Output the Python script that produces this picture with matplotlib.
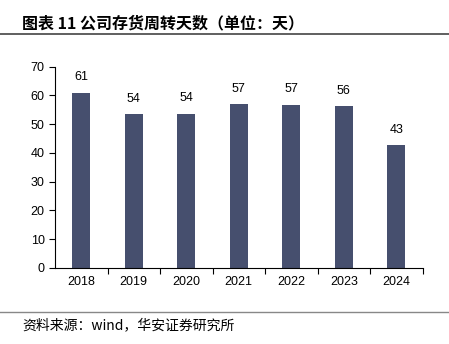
import matplotlib
matplotlib.use("Agg")
from matplotlib import pyplot as plt
from matplotlib.ticker import FixedLocator

plt.rcParams['font.family'] = ['Liberation Sans', 'Noto Sans CJK SC', 'DejaVu Sans']

years = ['2018', '2019', '2020', '2021', '2022', '2023', '2024']
days = [61.0, 53.6, 53.7, 57.0, 56.8, 56.4, 42.7]
labels = ['61', '54', '54', '57', '57', '56', '43']

fig = plt.figure(figsize=(4.49, 3.44), dpi=100)
ax = fig.add_axes([0.1225, 0.221, 0.8185, 0.585])

pos = list(range(len(years)))
ax.bar(pos, days, width=0.34, color='#464f6e')
for i, v in enumerate(days):
    ax.text(pos[i], v + 3.2, labels[i], ha='center', va='bottom', fontsize=9)

ax.set_xlim(-0.5, len(years) - 0.5)
ax.set_ylim(0, 70)
ax.set_yticks(range(0, 71, 10))
ax.set_xticks(pos)
ax.set_xticklabels(years)
ax.xaxis.set_minor_locator(FixedLocator([p + 0.5 for p in pos]))
ax.tick_params(axis='x', which='major', length=0, labelsize=9, pad=6)
ax.tick_params(axis='x', which='minor', length=4, direction='out', width=0.8)
ax.tick_params(axis='y', length=4, direction='out', width=0.8, labelsize=9)
for s in ['top', 'right']:
    ax.spines[s].set_visible(False)
ax.spines['left'].set_linewidth(0.8)
ax.spines['bottom'].set_linewidth(0.8)

# title & source
fig.text(0.049, 0.933, '图表 11 公司存货周转天数（单位：天）', fontsize=11.5, fontweight='bold',
         va='center', family=['Noto Sans CJK SC', 'DejaVu Sans'])
fig.add_artist(plt.Line2D([0, 1], [0.901, 0.901], color='#444444', lw=1.2))
fig.add_artist(plt.Line2D([0, 1], [0.093, 0.093], color='#888888', lw=1.0))
fig.text(0.049, 0.055, '资料来源：wind，华安证券研究所', fontsize=10,
         va='center', family=['Noto Sans CJK SC', 'DejaVu Sans'])

fig.savefig('out.png', dpi=100)
